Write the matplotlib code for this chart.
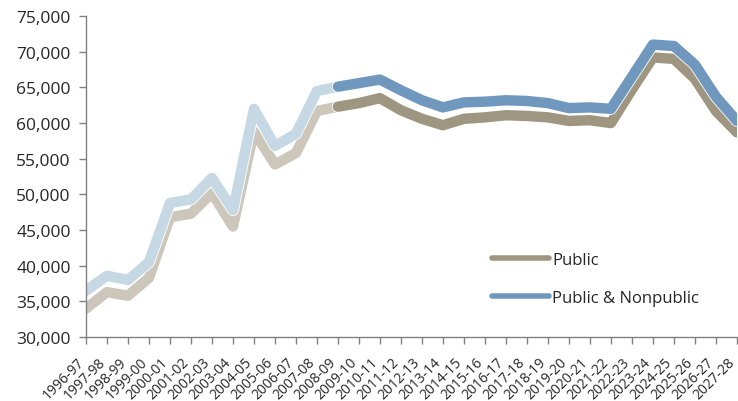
import matplotlib.pyplot as plt
import matplotlib.patheffects as pe
import matplotlib.transforms as mtransforms
from matplotlib.ticker import FuncFormatter
from matplotlib.lines import Line2D

plt.rcParams['font.family'] = ['Open Sans', 'DejaVu Sans']

# school years on the x axis
years = ['1996-97', '1997-98', '1998-99', '1999-00', '2000-01', '2001-02', '2002-03',
         '2003-04', '2004-05', '2005-06', '2006-07', '2007-08', '2008-09', '2009-10',
         '2010-11', '2011-12', '2012-13', '2013-14', '2014-15', '2015-16', '2016-17',
         '2017-18', '2018-19', '2019-20', '2020-21', '2021-22', '2022-23', '2023-24',
         '2024-25', '2025-26', '2026-27', '2027-28']

public = [34000, 36300, 35800, 38300, 46800, 47300, 50200, 45500, 58800, 54200,
          55800, 61700, 62300, 62800, 63500, 61800, 60600, 59700, 60600, 60800,
          61100, 61000, 60800, 60300, 60400, 60000, 64700, 69200, 69000, 66200,
          61700, 58700]

public_nonpublic = [36500, 38600, 38000, 40500, 48800, 49300, 52300, 47800, 62000, 56800,
                    58500, 64500, 65100, 65600, 66100, 64600, 63200, 62200, 62900, 63000,
                    63200, 63100, 62800, 62100, 62200, 62000, 66500, 71000, 70800, 68200,
                    63700, 60300]

# the series is shown faded up to this year
split = years.index('2008-09')

tan = '#9E9680'
tan_light = '#CDC7BB'
blue = '#7098BE'
blue_light = '#C7D8E5'
text_col = '#262626'
lw = 7.5

fig = plt.figure(figsize=(7.38, 4.02), dpi=100)
ax = fig.add_axes([0.1165, 0.159, 0.882, 0.7985])

x = list(range(len(years)))
edge = [pe.Stroke(linewidth=lw + 1.2, foreground='white'), pe.Normal()]
style = dict(linewidth=lw, solid_capstyle='round', solid_joinstyle='round')

ax.plot(x[:split + 1], public[:split + 1], color=tan_light, path_effects=edge, **style)
ax.plot(x[:split + 1], public_nonpublic[:split + 1], color=blue_light, path_effects=edge, **style)
ax.plot(x[split:], public[split:], color=tan, path_effects=edge, **style)
ax.plot(x[split:], public_nonpublic[split:], color=blue, path_effects=edge, **style)

ax.set_xlim(0, len(years) - 1)
ax.set_ylim(30000, 75000)
ax.set_yticks(range(30000, 75001, 5000))
ax.yaxis.set_major_formatter(FuncFormatter(lambda v, p: f'{int(v):,}'))
ax.set_xticks(x)
ax.set_xticklabels(years, rotation=45, ha='right', va='center', rotation_mode='anchor')

for s in ['top', 'right']:
    ax.spines[s].set_visible(False)
for s in ['left', 'bottom']:
    ax.spines[s].set_color('#808080')
    ax.spines[s].set_linewidth(1)
ax.tick_params(axis='y', colors='#808080', labelcolor=text_col, labelsize=12.5,
               length=5, width=1, pad=6)
ax.tick_params(axis='x', colors='#808080', labelcolor=text_col, labelsize=10,
               length=5, width=1, pad=2)

# nudge the slanted labels so their upper end sits just under the tick
shift = mtransforms.ScaledTranslation(-4 / 100, -13 / 100, fig.dpi_scale_trans)
for lab in ax.get_xticklabels():
    lab.set_transform(lab.get_transform() + shift)

handles = [Line2D([], [], color=tan, linewidth=4, solid_capstyle='round'),
           Line2D([], [], color=blue, linewidth=4, solid_capstyle='round')]
leg = ax.legend(handles, ['Public', 'Public & Nonpublic'], loc='upper left',
                bbox_to_anchor=(0.614, 0.285), frameon=False, fontsize=12,
                handlelength=3.4, handletextpad=0.2, labelspacing=1.3,
                borderaxespad=0)
for t in leg.get_texts():
    t.set_color(text_col)

fig.savefig('out.png', dpi=100)
